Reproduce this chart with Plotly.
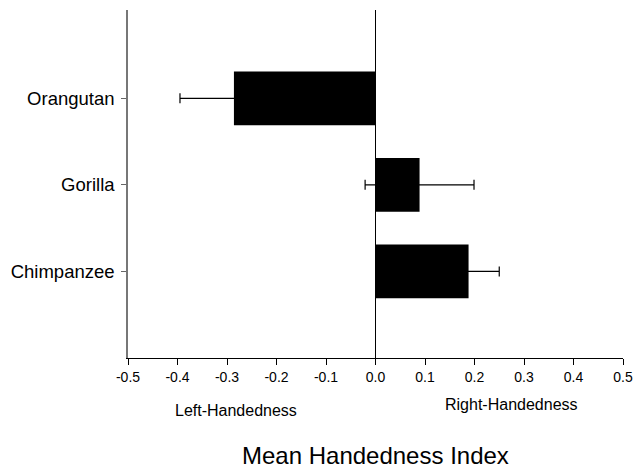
import plotly.graph_objects as go

species = ["Chimpanzee", "Gorilla", "Orangutan"]
mean_index = [0.188, 0.089, -0.286]
std_error = [0.062, 0.11, 0.109]
x_ticks = [-0.5, -0.4, -0.3, -0.2, -0.1, 0.0, 0.1, 0.2, 0.3, 0.4, 0.5]
x_tick_labels = ["-0.5", "-0.4", "-0.3", "-0.2", "-0.1", "0.0", "0.1", "0.2", "0.3", "0.4", "0.5"]

FONT = "Liberation Sans, Arial, Helvetica, sans-serif"

fig = go.Figure()
fig.add_trace(go.Bar(
    y=species,
    x=mean_index,
    orientation="h",
    width=0.62,
    marker=dict(color="black", line=dict(width=0)),
    error_x=dict(type="data", array=std_error, visible=True,
                 color="black", thickness=1.2, width=5),
    showlegend=False,
    hoverinfo="skip",
))

fig.update_layout(
    width=641, height=468,
    margin=dict(l=128, r=18, t=10, b=110),
    plot_bgcolor="white", paper_bgcolor="white",
    font=dict(family=FONT, color="black"),
    xaxis=dict(
        range=[-0.5, 0.5],
        tickvals=x_ticks, ticktext=x_tick_labels,
        ticks="outside", ticklen=6, tickcolor="black", tickwidth=1,
        showline=True, linecolor="black", linewidth=1,
        showgrid=False,
        zeroline=True, zerolinecolor="black", zerolinewidth=1,
        tickfont=dict(size=14, family=FONT),
        automargin=False,
    ),
    yaxis=dict(
        range=[-1.0, 3.02],
        categoryorder="array", categoryarray=species,
        ticks="outside", ticklen=5, tickcolor="#666666",
        showline=True, linecolor="#777777", linewidth=1.5,
        showgrid=False, zeroline=False,
        tickfont=dict(size=18.5, family=FONT),
        ticklabelstandoff=3,
        automargin=False,
    ),
    annotations=[
        dict(text="Left-Handedness", x=-0.282, y=-0.152, xref="x", yref="paper",
             xanchor="center", yanchor="middle",
             showarrow=False, font=dict(size=16, family=FONT)),
        dict(text="Right-Handedness", x=0.274, y=-0.135, xref="x", yref="paper",
             xanchor="center", yanchor="middle",
             showarrow=False, font=dict(size=16, family=FONT)),
        dict(text="Mean Handedness Index", x=0.0, y=-0.279, xref="x", yref="paper",
             xanchor="center", yanchor="middle",
             showarrow=False, font=dict(size=24, family=FONT)),
    ],
)

fig.write_html("out.html", config={"displayModeBar": False},
               post_script="document.body.style.margin='0';")
